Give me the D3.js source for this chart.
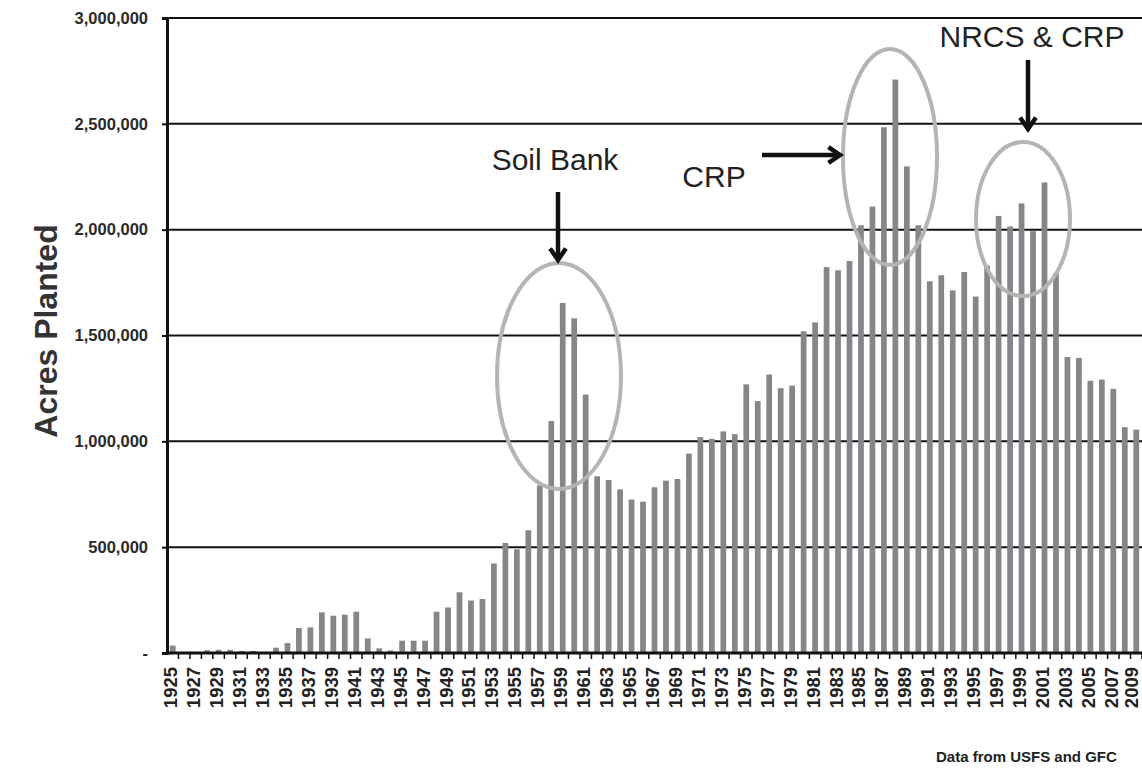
<!DOCTYPE html>
<html lang="en">
<head>
<meta charset="utf-8">
<title>Acres Planted</title>
<script src="https://cdn.jsdelivr.net/npm/d3@7"></script>
<style>
  body { margin: 0; background: #fff; }
  text { font-family: Arial, "Liberation Sans", sans-serif; }
</style>
</head>
<body>
<script>
// data
var years = d3.range(1925, 2010);
var acres = [
  35000, 5000, 2000, 13000, 15000, 15000, 10000, 10000, 2000, 25000,
  47000, 118000, 121000, 192000, 176000, 181000, 195000, 69000, 22000, 12000,
  58000, 58000, 58000, 195000, 215000, 287000, 248000, 255000, 423000, 520000,
  490000, 580000, 792000, 1096000, 1654000, 1581000, 1221000, 835000, 817000, 773000,
  725000, 715000, 783000, 814000, 822000, 942000, 1020000, 1012000, 1047000, 1034000,
  1269000, 1190000, 1316000, 1251000, 1263000, 1520000, 1562000, 1823000, 1808000, 1852000,
  2021000, 2109000, 2484000, 2709000, 2299000, 2021000, 1756000, 1785000, 1713000, 1800000,
  1684000, 1830000, 2065000, 2015000, 2124000, 1993000, 2223000, 1793000, 1398000, 1394000,
  1286000, 1292000, 1248000, 1067000, 1055000
];
var yTicks = [0, 500000, 1000000, 1500000, 2000000, 2500000, 3000000];

var w = 1142, h = 770;
var mLeft = 167, mRight = 1142, mTop = 18, mBottom = 653;

var svg = d3.select("body").append("svg")
  .attr("width", w).attr("height", h);

var x = d3.scaleBand()
  .domain(years)
  .range([mLeft, mRight])
  .paddingInner(0.5)
  .paddingOuter(0.25);

var y = d3.scaleLinear()
  .domain([0, 3000000])
  .range([mBottom, mTop]);

// gridlines
svg.selectAll("line.grid")
  .data(yTicks.slice(1))
  .enter().append("line")
  .attr("class", "grid")
  .attr("x1", mLeft).attr("x2", mRight)
  .attr("y1", function(d) { return y(d); })
  .attr("y2", function(d) { return y(d); })
  .attr("stroke", "#111").attr("stroke-width", 2);

// bars
svg.selectAll("rect.bar")
  .data(acres)
  .enter().append("rect")
  .attr("class", "bar")
  .attr("x", function(d, i) { return x(years[i]); })
  .attr("y", function(d) { return y(d); })
  .attr("width", x.bandwidth())
  .attr("height", function(d) { return mBottom - y(d); })
  .attr("fill", "#86868a");

// y axis
var yAxis = d3.axisLeft(y)
  .tickValues(yTicks)
  .tickSize(5)
  .tickPadding(14)
  .tickFormat(function(d) { return d === 0 ? "-" : d3.format(",")(d); });

var gy = svg.append("g")
  .attr("transform", "translate(" + mLeft + ",0)")
  .call(yAxis);
gy.select(".domain").attr("stroke", "#111").attr("stroke-width", 3);
gy.selectAll(".tick line").attr("stroke", "#111").attr("stroke-width", 2);
gy.selectAll(".tick text")
  .attr("font-size", "16.5px").attr("font-weight", "bold").attr("fill", "#2a2a2a")
  .attr("font-family", "Arial, 'Liberation Sans', sans-serif");

// x axis: ticks between bars, labels on every other year
var step = x.step();
var xg = svg.append("g");
xg.append("line")
  .attr("x1", mLeft).attr("x2", mRight)
  .attr("y1", mBottom).attr("y2", mBottom)
  .attr("stroke", "#111").attr("stroke-width", 3);
xg.selectAll("line.xt")
  .data(years)
  .enter().append("line")
  .attr("class", "xt")
  .attr("x1", function(d) { return x(d) + x.bandwidth() / 2 + step / 2; })
  .attr("x2", function(d) { return x(d) + x.bandwidth() / 2 + step / 2; })
  .attr("y1", mBottom).attr("y2", mBottom + 6)
  .attr("stroke", "#111").attr("stroke-width", 1.5);

xg.selectAll("text.xl")
  .data(years.filter(function(d) { return (d - 1925) % 2 === 0; }))
  .enter().append("text")
  .attr("class", "xl")
  .attr("transform", function(d) {
    // keep the last label inside the page
    var tx = Math.min(x(d) + x.bandwidth() / 2 + 4.5, w - 4.5);
    return "translate(" + tx + "," + (mBottom + 14) + ") rotate(-90)";
  })
  .attr("text-anchor", "end")
  .attr("font-size", "18.5px").attr("font-weight", "bold").attr("fill", "#222")
  .text(function(d) { return d; });

// y axis title
svg.append("text")
  .attr("transform", "translate(57,331) rotate(-90)")
  .attr("text-anchor", "middle")
  .attr("font-size", "32px").attr("font-weight", "bold").attr("fill", "#333")
  .text("Acres Planted");

// source note
svg.append("text")
  .attr("x", 936).attr("y", 762)
  .attr("font-size", "15px").attr("font-weight", "bold").attr("fill", "#222")
  .text("Data from USFS and GFC");

// annotations
var ell = [
  { cx: 559, cy: 376, rx: 62, ry: 113 },
  { cx: 890, cy: 157, rx: 47, ry: 108 },
  { cx: 1023, cy: 219, rx: 47, ry: 77 }
];
svg.selectAll("ellipse")
  .data(ell)
  .enter().append("ellipse")
  .attr("cx", function(d) { return d.cx; })
  .attr("cy", function(d) { return d.cy; })
  .attr("rx", function(d) { return d.rx; })
  .attr("ry", function(d) { return d.ry; })
  .attr("fill", "none")
  .attr("stroke", "#b4b4b4")
  .attr("stroke-width", 4);

var notes = [
  { t: "Soil Bank", x: 555, y: 170 },
  { t: "CRP", x: 714, y: 187 },
  { t: "NRCS & CRP", x: 1032, y: 47 }
];
svg.selectAll("text.note")
  .data(notes)
  .enter().append("text")
  .attr("class", "note")
  .attr("x", function(d) { return d.x; })
  .attr("y", function(d) { return d.y; })
  .attr("text-anchor", "middle")
  .attr("font-size", "30px")
  .attr("fill", "#222")
  .text(function(d) { return d.t; });

// arrows
function arrow(x1, y1, x2, y2) {
  var a = Math.atan2(y2 - y1, x2 - x1), L = 14, sp = 0.6;
  svg.append("line")
    .attr("x1", x1).attr("y1", y1).attr("x2", x2 - Math.cos(a) * 3).attr("y2", y2 - Math.sin(a) * 3)
    .attr("stroke", "#111").attr("stroke-width", 4.5);
  svg.append("path")
    .attr("d", "M" + (x2 - L * Math.cos(a - sp)) + "," + (y2 - L * Math.sin(a - sp)) +
      "L" + x2 + "," + y2 +
      "L" + (x2 - L * Math.cos(a + sp)) + "," + (y2 - L * Math.sin(a + sp)))
    .attr("fill", "none").attr("stroke", "#111").attr("stroke-width", 4.5)
    .attr("stroke-linejoin", "miter");
}
arrow(558, 192, 558, 260);
arrow(762, 155, 840, 155);
arrow(1028, 60, 1028, 129);
</script>
</body>
</html>
